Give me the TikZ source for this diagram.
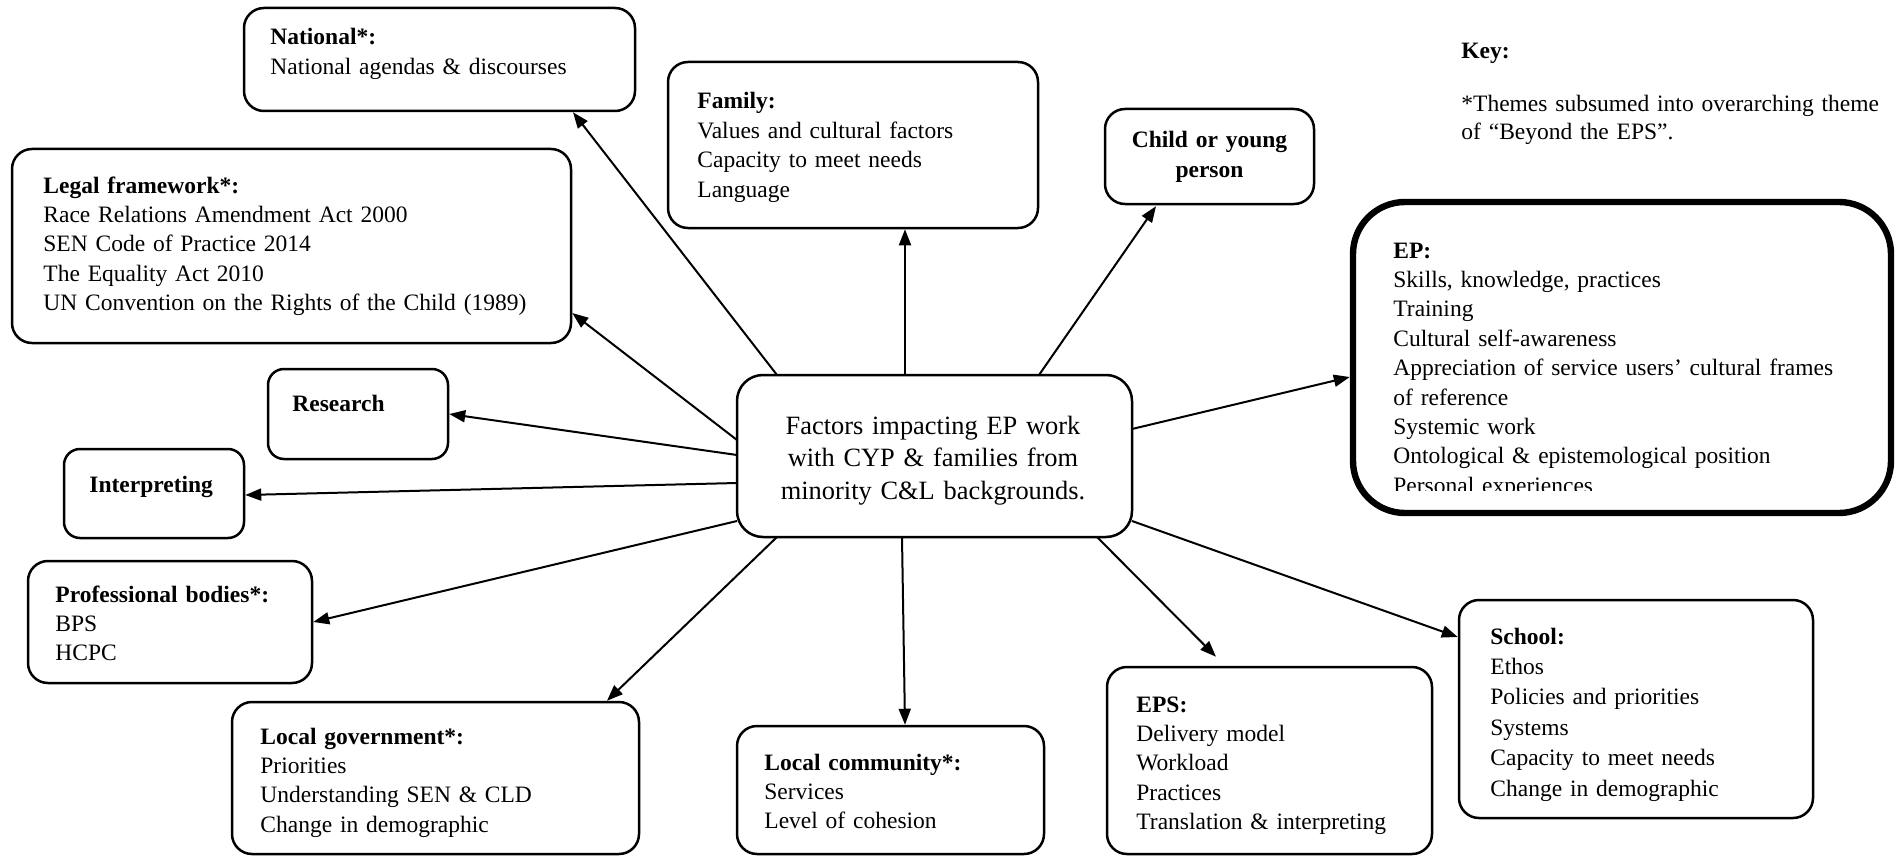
\documentclass[tikz,border=0pt]{standalone}
\usepackage{fontspec}
\setmainfont{Liberation Serif}
\usetikzlibrary{arrows.meta,calc}

\begin{document}
\begin{tikzpicture}[x=0.5pt,y=-0.5pt,
  box/.style={draw, line width=1.25pt, rounded corners=10pt, inner sep=0pt},
  smallbox/.style={box, rounded corners=8pt},
  hubbox/.style={box, rounded corners=13pt},
  thickbox/.style={box, line width=3.2pt, rounded corners=26pt},
  txt/.style={anchor=base west, inner sep=0pt, align=left, text width=300pt,
    font=\fontsize{11.75}{14.7}\selectfont},
  hubtxt/.style={anchor=base, inner sep=0pt, align=center, text width=190pt,
    font=\fontsize{13.2}{16.25}\selectfont},
  conn/.style={-{Triangle[length=8pt,width=6pt]}, line width=1pt}]

\useasboundingbox (0,0) rectangle (1896,856);

% central theme
\node[hubbox, minimum width=197.5pt, minimum height=81pt] (c) at (934.5,456) {};
\node[hubtxt] (c-t) at (933,434) {Factors impacting EP work\\with CYP \& families from\\minority C\&L backgrounds.};

% surrounding factor boxes
\node[box, minimum width=195.5pt, minimum height=51.5pt] (nat) at (439.5,59.5) {};
\node[txt] (nat-t) at (270,45) {\textbf{National*:}\\National agendas \& discourses};

\node[box, minimum width=279.5pt, minimum height=97pt] (legal) at (291.5,246) {};
\node[txt] (legal-t) at (43,193) {\textbf{Legal framework*:}\\Race Relations Amendment Act 2000\\SEN Code of Practice 2014\\The Equality Act 2010\\UN Convention on the Rights of the Child (1989)};

\node[box, minimum width=185pt, minimum height=83pt] (fam) at (853,145) {};
\node[txt] (fam-t) at (697,109) {\textbf{Family:}\\Values and cultural factors\\Capacity to meet needs\\Language};

\node[box, minimum width=104.5pt, minimum height=47.5pt] (child) at (1209.5,156.5) {};
\node[anchor=base, inner sep=0pt, align=center, text width=100pt, font=\fontsize{11.75}{15}\selectfont\bfseries] (child-t) at (1209.5,148) {Child or young\\person};

\node[thickbox, minimum width=269pt, minimum height=155.5pt] (ep) at (1622,357.5) {};
\begin{scope}
  \clip (1353,202) rectangle (1891,490);
  \node[txt] (ep-t) at (1393,258) {\textbf{EP:}\\Skills, knowledge, practices\\Training\\Cultural self-awareness\\Appreciation of service users’ cultural frames\\of reference\\Systemic work\\Ontological \& epistemological position\\Personal experiences};
\end{scope}

\node[smallbox, minimum width=90pt, minimum height=45pt] (res) at (358,414) {};
\node[txt] (res-t) at (292,411) {\textbf{Research}};

\node[smallbox, minimum width=90pt, minimum height=44.5pt] (interp) at (154,493.5) {};
\node[txt] (interp-t) at (89,492) {\textbf{Interpreting}};

\node[box, minimum width=142pt, minimum height=61pt] (prof) at (170,622) {};
\node[txt] (prof-t) at (55,602) {\textbf{Professional bodies*:}\\BPS\\HCPC};

\node[box, minimum width=203.5pt, minimum height=76pt] (lg) at (435.5,778) {};
\node[txt] (lg-t) at (260,744) {\textbf{Local government*:}\\Priorities\\Understanding SEN \& CLD\\Change in demographic};

\node[box, minimum width=153.5pt, minimum height=64pt] (lc) at (890.5,790) {};
\node[txt] (lc-t) at (764,770) {\textbf{Local community*:}\\Services\\Level of cohesion};

\node[box, minimum width=162.5pt, minimum height=93.5pt] (eps) at (1269.5,760.5) {};
\node[txt] (eps-t) at (1136,712) {\textbf{EPS:}\\Delivery model\\Workload\\Practices\\Translation \& interpreting};

\node[box, minimum width=177pt, minimum height=109pt] (sch) at (1636,709) {};
\node[txt, font=\fontsize{11.75}{15.2}\selectfont] (sch-t) at (1490,644) {\textbf{School:}\\Ethos\\Policies and priorities\\Systems\\Capacity to meet needs\\Change in demographic};

% key
\node[txt] (key) at (1461,59) {\textbf{Key:}};
\node[txt, font=\fontsize{11.75}{14}\selectfont] (key-t) at (1461,112) {*Themes subsumed into overarching theme\\of “Beyond the EPS”.};

% connectors from the central theme
\draw[conn] ($(c)+(-157.5,-81)$) -- ($(nat.south)+(133.5,0)$);
\draw[conn] ($(c)+(-197.5,-16)$) -- ($(legal.east)+(0,67)$);
\draw[conn] ($(c)+(-197.5,-1)$) -- (res.east);
\draw[conn] ($(c)+(-197.5,27)$) -- ($(interp.east)+(0,1.5)$);
\draw[conn] ($(c)+(-197.5,65)$) -- (prof.east);
\draw[conn] ($(c)+(-157.5,81)$) -- ($(lg.north)+(171.5,0)$);
\draw[conn] ($(c)+(-32.5,81)$) -- ($(lc.north)+(14.5,0)$);
\draw[conn] ($(c)+(162.5,81)$) -- ($(eps.north)+(-53.5,-9)$);
\draw[conn] ($(c)+(197.5,65)$) -- ($(sch.west)+(0,-72)$);
\draw[conn] ($(c)+(197.5,-27)$) -- ($(ep.west)+(0,19.5)$);
\draw[conn] ($(c)+(104.5,-81)$) -- ($(child.south)+(-53.5,1)$);
\draw[conn] ($(c)+(-29.5,-81)$) -- ($(fam.south)+(52,0)$);

\end{tikzpicture}
\end{document}
